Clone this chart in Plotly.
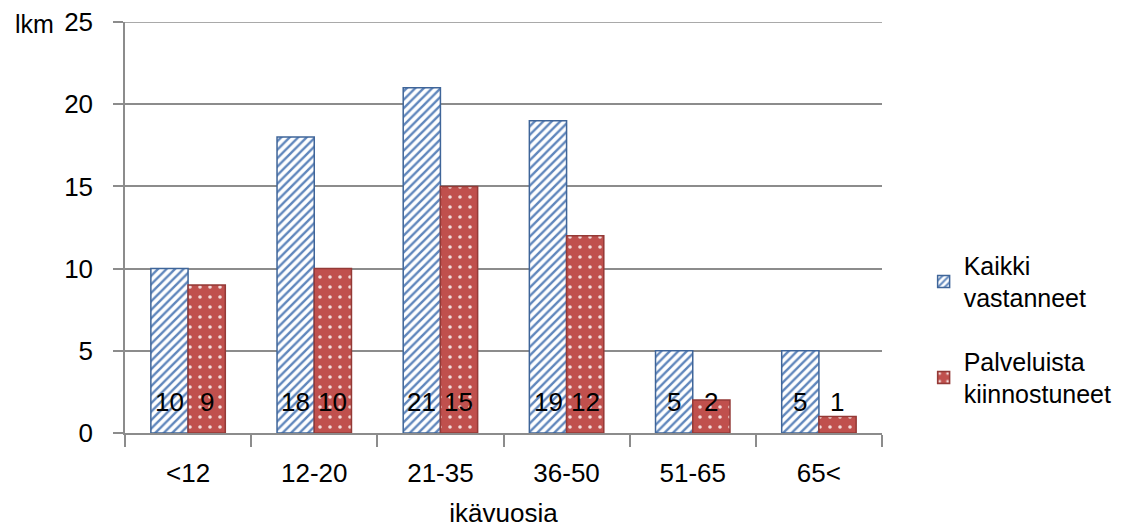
import plotly.graph_objects as go

categories = ["<12", "12-20", "21-35", "36-50", "51-65", "65<"]
kaikki = [10, 18, 21, 19, 5, 5]
palveluista = [9, 10, 15, 12, 2, 1]
series_names = ["Kaikki<br>vastanneet", "Palveluista<br>kiinnostuneet"]

FONT = "Liberation Sans, Arial, sans-serif"

fig = go.Figure()
fig.add_trace(go.Bar(
    x=categories, y=kaikki, name=series_names[0], legendgroup="a",
    marker=dict(color="white",
                line=dict(color="#3F6599", width=1.5),
                pattern=dict(shape="/", fgcolor="#5F86BC", bgcolor="white",
                             size=6, solidity=0.4, fillmode="replace")),
))
fig.add_trace(go.Bar(
    x=categories, y=palveluista, name=series_names[1], legendgroup="b",
    marker=dict(color="#C0504D",
                line=dict(color="#943A37", width=1.5),
                pattern=dict(shape=".", fgcolor="#F2DCDB", bgcolor="#C0504D",
                             size=10, solidity=0.1, fillmode="replace")),
))

annotations = []
for i, c in enumerate(categories):
    for vals, shift in ((kaikki, -18.5), (palveluista, 18.5)):
        annotations.append(dict(x=c, y=0, yref="y", xref="x", text=str(vals[i]),
                                showarrow=False, xshift=shift, yshift=31,
                                font=dict(size=26, color="black", family=FONT)))
annotations.append(dict(x=-0.148, y=0.995, xref="paper", yref="paper",
                        text="lkm", showarrow=False, xanchor="left", yanchor="middle",
                        font=dict(size=25, color="black", family=FONT)))

fig.update_layout(
    width=1121, height=520,
    margin=dict(l=117, r=247, t=14, b=95),
    paper_bgcolor="white", plot_bgcolor="white",
    barmode="group", bargap=0.41, bargroupgap=0,
    font=dict(family=FONT, size=25, color="black"),
    showlegend=True,
    legend=dict(x=1.055, y=0.252, xanchor="left", yanchor="middle",
                font=dict(size=25, family=FONT, color="black"),
                traceorder="grouped", tracegroupgap=28,
                itemwidth=30, bgcolor="rgba(0,0,0,0)"),
    annotations=annotations,
    shapes=[dict(type="line", xref="paper", yref="y", x0=0, x1=1, y0=25, y1=25,
                 line=dict(color="#8C8C8C", width=1.5), layer="below")],
)
fig.update_xaxes(
    automargin=False,
    showline=True, linecolor="#8C8C8C", linewidth=1.5,
    ticks="outside", ticklen=12, tickcolor="#8C8C8C", tickwidth=1.5,
    tickson="boundaries", showgrid=False,
    tickfont=dict(family=FONT, size=26, color="black"),
    title=dict(text="ikävuosia", font=dict(size=26, family=FONT, color="black"), standoff=22),
    ticklabelstandoff=16,
)
fig.update_yaxes(
    automargin=False, ticklabeloverflow="allow",
    range=[0, 25], dtick=5, showline=True, linecolor="#8C8C8C", linewidth=1.5,
    ticks="outside", ticklen=10, tickcolor="#8C8C8C", tickwidth=1.5,
    showgrid=True, gridcolor="#8C8C8C", gridwidth=1.5, zeroline=False,
    tickfont=dict(family=FONT, size=26, color="black"),
    ticklabelstandoff=15,
)

fig.write_html("out.html")
